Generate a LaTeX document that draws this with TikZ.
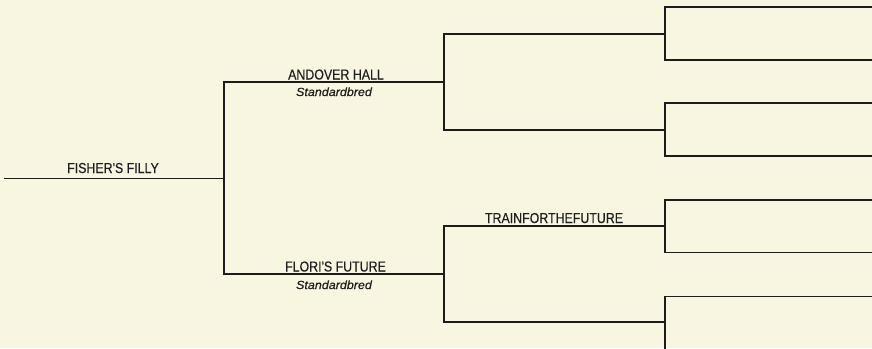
\documentclass[tikz,border=0pt]{standalone}
\usepackage{fontspec}
\setmainfont{Liberation Sans}
\newfontfamily\namefont[FakeStretch=0.86,FakeBold=0.35]{Liberation Sans}
\newfontfamily\breedfont[FakeStretch=1.06,FakeBold=0.5]{Liberation Sans}
\definecolor{bgcream}{HTML}{F8F6E1}
\definecolor{linecol}{HTML}{1C1C1C}
\definecolor{txtcol}{HTML}{1E1E1E}
\begin{document}
\begin{tikzpicture}[x=1pt,y=-1pt,
  conn/.style={draw=linecol,line width=1.4pt},
  horse/.style={anchor=base,inner sep=0pt,text=txtcol,font=\namefont\fontsize{14.4}{15}\selectfont},
  breed/.style={anchor=base,inner sep=0pt,text=txtcol,font=\breedfont\itshape\fontsize{11.8}{12}\selectfont}]
\useasboundingbox (0,0) rectangle (872,348);
\fill[bgcream] (0,0) rectangle (872,348);
\clip (0,0) rectangle (872,348);
% generation 1
\coordinate (r0) at (4,178.5);
\coordinate (r1) at (224,178.5);
% generation 2
\coordinate (s0) at (224,82);   \coordinate (s1) at (444,82);
\coordinate (d0) at (224,274);  \coordinate (d1) at (444,274);
% generation 3
\coordinate (ss0) at (444,34);  \coordinate (ss1) at (665,34);
\coordinate (sd0) at (444,130); \coordinate (sd1) at (665,130);
\coordinate (ds0) at (444,226); \coordinate (ds1) at (665,226);
\coordinate (dd0) at (444,322); \coordinate (dd1) at (665,322);
% generation 4
\foreach \n/\y in {a/7,b/60,c/103,d/156,e/200,f/252.5,g/296.5,h/351}{
  \coordinate (g\n0) at (665,\y);
  \coordinate (g\n1) at (872,\y);
}
% connectors
\draw[conn] (r0) -- (r1);
\draw[conn] (s1) -- (s0) -- (d0) -- (d1);
\draw[conn] (ss1) -- (ss0) -- (sd0) -- (sd1);
\draw[conn] (ds1) -- (ds0) -- (dd0) -- (dd1);
\draw[conn] (ga1) -- (ga0) -- (gb0) -- (gb1);
\draw[conn] (gc1) -- (gc0) -- (gd0) -- (gd1);
\draw[conn] (ge1) -- (ge0) -- (gf0) -- (gf1);
\draw[conn] (gg1) -- (gg0) -- (gh0) -- (gh1);
% labels
\node[horse] (nroot) at (113,173) {FISHER'S FILLY};
\node[horse] (nsire) at (336,79.5) {ANDOVER HALL};
\node[breed] (bsire) at (334,96) {Standardbred};
\node[horse] (ndam) at (335.5,271.5) {FLORI'S FUTURE};
\node[breed] (bdam) at (334,289) {Standardbred};
\node[horse] (nds) at (554,223) {TRAINFORTHEFUTURE};
\end{tikzpicture}
\end{document}
